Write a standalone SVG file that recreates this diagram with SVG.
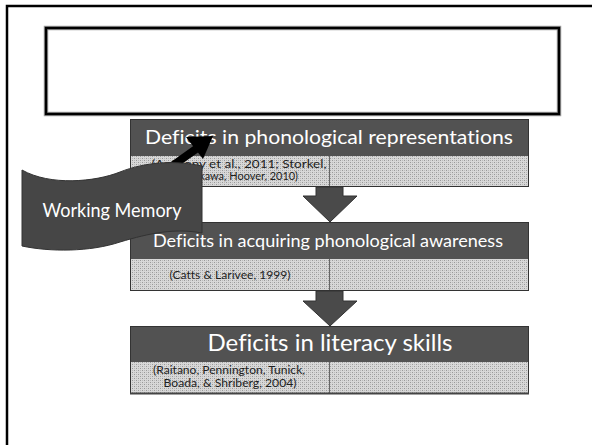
<svg xmlns="http://www.w3.org/2000/svg" width="592" height="445" viewBox="0 0 592 445">
  <defs>
    <pattern id="dots" width="4" height="4" patternUnits="userSpaceOnUse">
      <rect width="4" height="4" fill="#d8d8d8"/>
      <rect x="0" y="0" width="1" height="1" fill="#999999"/>
      <rect x="2" y="2" width="1" height="1" fill="#999999"/>
      <rect x="2" y="0" width="1" height="1" fill="#bbbbbb"/>
      <rect x="0" y="2" width="1" height="1" fill="#bbbbbb"/>
    </pattern>
  </defs>
  <style>
    text { font-variant-ligatures: none; }
    .hdr { fill: #525252; }
    .cite { fill: url(#dots); }
    .edge { fill: none; stroke: #333333; stroke-width: 1; }
    .div { stroke: #666666; stroke-width: 1; }
    .htxt { font-family: Lato, "Liberation Sans", Arial, sans-serif; fill: #ffffff; text-anchor: middle; }
    .ctxt { font-family: Lato, "Liberation Sans", Arial, sans-serif; fill: #1e1e1e; font-size: 10.5px; text-anchor: middle; }
    .down { fill: #4a4a4a; stroke: #333333; stroke-width: 1; }
  </style>

  <rect width="592" height="445" fill="#ffffff"/>

  <!-- slide frame -->
  <rect x="7" y="6" width="600" height="450" fill="none" stroke="#000000" stroke-width="2.5"/>

  <!-- empty title placeholder -->
  <g id="title">
    <rect x="46" y="28" width="513" height="86" fill="#ffffff" stroke="#a0a0a0" stroke-width="4.5"/>
    <rect x="46" y="28" width="513" height="86" fill="none" stroke="#000000" stroke-width="2.5"/>
  </g>

  <!-- level 1 -->
  <g id="box1">
    <rect class="hdr" x="130" y="119" width="399" height="37"/>
    <rect class="cite" x="130" y="156" width="399" height="31"/>
    <line class="div" x1="329.5" y1="156" x2="329.5" y2="187"/>
    <rect class="edge" x="130.5" y="119.5" width="398" height="67"/>
    <text class="htxt" x="329" y="144" font-size="19" textLength="368" lengthAdjust="spacingAndGlyphs">Deficits in phonological representations</text>
    <text class="ctxt" x="239" y="168" textLength="175" lengthAdjust="spacingAndGlyphs">(Anthony et al., 2011;  Storkel,</text>
    <text class="ctxt" x="238" y="180" textLength="120" lengthAdjust="spacingAndGlyphs">Maekawa, Hoover, 2010)</text>
  </g>

  <!-- level 2 -->
  <g id="box2">
    <rect class="hdr" x="130" y="222" width="399" height="37"/>
    <rect class="cite" x="130" y="259" width="399" height="32"/>
    <line class="div" x1="329.5" y1="259" x2="329.5" y2="291"/>
    <rect class="edge" x="130.5" y="222.5" width="398" height="68"/>
    <text class="htxt" x="328" y="247" font-size="17" textLength="350" lengthAdjust="spacingAndGlyphs">Deficits in acquiring phonological awareness</text>
    <text class="ctxt" x="230" y="279" textLength="121" lengthAdjust="spacingAndGlyphs">(Catts &amp; Larivee, 1999)</text>
  </g>

  <!-- level 3 -->
  <g id="box3">
    <rect class="hdr" x="130" y="326" width="399" height="36"/>
    <rect class="cite" x="130" y="362" width="399" height="31"/>
    <line class="div" x1="329.5" y1="362" x2="329.5" y2="393"/>
    <rect class="edge" x="130.5" y="326.5" width="398" height="67"/>
    <line x1="130" y1="393.5" x2="529" y2="393.5" stroke="#444444" stroke-width="2"/>
    <text class="htxt" x="330" y="351" font-size="23.5" textLength="245" lengthAdjust="spacingAndGlyphs">Deficits in literacy skills</text>
    <text class="ctxt" x="229" y="374" textLength="152" lengthAdjust="spacingAndGlyphs">(Raitano, Pennington, Tunick,</text>
    <text class="ctxt" x="230" y="387" textLength="133" lengthAdjust="spacingAndGlyphs">Boada, &amp; Shriberg, 2004)</text>
  </g>

  <!-- connectors -->
  <g id="connectors">
    <path class="down" d="M316,187 H343 V196 H357 L330,222 L303,196 H316 Z"/>
    <path class="down" d="M316,291 H343 V301 H357 L330,326 L303,301 H316 Z"/>
    <!-- black arrow from Working Memory into level 1 -->
    <line x1="158" y1="176" x2="196" y2="149" stroke="#000000" stroke-width="8"/>
    <polygon points="213,136 186,137 203,159" fill="#000000"/>
  </g>

  <!-- wave-shaped side label -->
  <g id="working-memory">
    <path d="M22,170 C50,186 95,182 120,172 C145,162 175,160 202,166 L202,233 C175,228 150,233 120,242 C90,252 50,252 22,246 Z" fill="#464646" stroke="#333333" stroke-width="1"/>
    <text x="112" y="217" font-family="Lato, Liberation Sans, Arial, sans-serif" font-size="19" fill="#ffffff" text-anchor="middle" textLength="139" lengthAdjust="spacingAndGlyphs">Working Memory</text>
  </g>
</svg>
